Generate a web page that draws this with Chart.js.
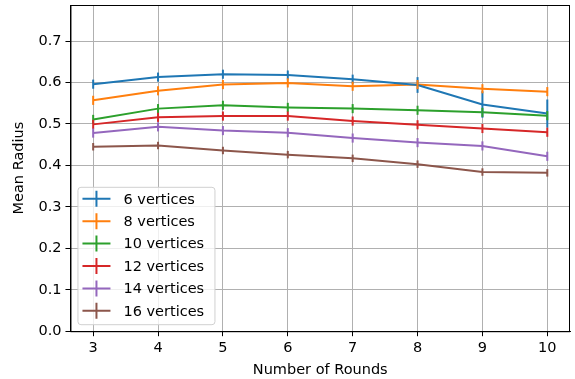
<!DOCTYPE html>
<html>
<head>
<meta charset="utf-8">
<script src="https://cdn.jsdelivr.net/npm/chart.js@4"></script>
<style>
  html, body { margin: 0; padding: 0; background: #fff; }
  #wrap { width: 575px; height: 379px; }
</style>
</head>
<body>
<div id="wrap"><canvas id="chart" width="575" height="379"></canvas></div>
<script>
// rounds on the x axis
const rounds = [3, 4, 5, 6, 7, 8, 9, 10];
const yTicks = [0, 0.1, 0.2, 0.3, 0.4, 0.5, 0.6, 0.7];

const labels = ["6 vertices", "8 vertices", "10 vertices", "12 vertices", "14 vertices", "16 vertices"];
const colors = ["#1f77b4", "#ff7f0e", "#2ca02c", "#d62728", "#9467bd", "#8c564b"];

// mean radius per series
const v6  = [0.596, 0.613, 0.620, 0.618, 0.608, 0.594, 0.547, 0.525];
const v8  = [0.557, 0.580, 0.595, 0.599, 0.591, 0.595, 0.585, 0.578];
const v10 = [0.511, 0.537, 0.545, 0.540, 0.537, 0.533, 0.528, 0.520];
const v12 = [0.499, 0.516, 0.519, 0.519, 0.507, 0.498, 0.489, 0.480];
const v14 = [0.478, 0.493, 0.484, 0.479, 0.466, 0.455, 0.447, 0.422];
const v16 = [0.445, 0.448, 0.436, 0.426, 0.417, 0.403, 0.384, 0.382];

// error bar half-widths
const e6  = [0.011, 0.011, 0.011, 0.011, 0.011, 0.019, 0.032, 0.034];
const e8  = [0.011, 0.011, 0.011, 0.011, 0.011, 0.011, 0.011, 0.011];
const e10 = [0.011, 0.011, 0.011, 0.011, 0.011, 0.011, 0.011, 0.011];
const e12 = [0.011, 0.011, 0.011, 0.011, 0.011, 0.011, 0.011, 0.011];
const e14 = [0.011, 0.011, 0.011, 0.011, 0.011, 0.011, 0.011, 0.011];
const e16 = [0.009, 0.009, 0.009, 0.009, 0.009, 0.009, 0.009, 0.009];

const values = [v6, v8, v10, v12, v14, v16];
const errors = [e6, e8, e10, e12, e14, e16];

const FONT = "'DejaVu Sans', sans-serif";
const FS = 14.5;

const datasets = values.map((vals, i) => ({
  label: labels[i],
  data: vals.map((y, j) => ({ x: rounds[j], y })),
  errors: errors[i],
  borderColor: colors[i],
  backgroundColor: colors[i],
  borderWidth: 2,
  pointRadius: 0,
  tension: 0,
}));

// vertical error bars, drawn through the scales
const errorBars = {
  id: "errorBars",
  afterDatasetsDraw(chart) {
    const { ctx, scales: { x, y } } = chart;
    ctx.save();
    chart.data.datasets.forEach(ds => {
      ctx.strokeStyle = ds.borderColor;
      ctx.lineWidth = 2;
      ds.data.forEach((p, j) => {
        const e = ds.errors[j];
        const px = x.getPixelForValue(p.x);
        ctx.beginPath();
        ctx.moveTo(px, y.getPixelForValue(p.y - e));
        ctx.lineTo(px, y.getPixelForValue(p.y + e));
        ctx.stroke();
      });
    });
    ctx.restore();
  }
};

// matplotlib-like legend in the lower left corner, plus the full frame
const insideLegend = {
  id: "insideLegend",
  afterDraw(chart) {
    const { ctx, chartArea: a } = chart;
    ctx.save();
    ctx.strokeStyle = "#000";
    ctx.lineWidth = 1;
    ctx.strokeRect(a.left + 0.5, a.top + 0.5, a.right - a.left - 1, a.bottom - a.top);

    const left = a.left + 7, bottom = a.bottom - 7;
    const rowH = 22.4, w = 137, h = rowH * labels.length + 3;
    const top = bottom - h;
    ctx.fillStyle = "rgba(255,255,255,0.8)";
    ctx.strokeStyle = "#d0d0d0";
    ctx.beginPath();
    ctx.roundRect(left + 0.5, top + 0.5, w, h, 3);
    ctx.fill();
    ctx.stroke();
    ctx.font = FS + "px " + FONT;
    ctx.textBaseline = "middle";
    labels.forEach((lab, i) => {
      const cy = top + 12 + i * rowH;
      ctx.strokeStyle = colors[i];
      ctx.lineWidth = 2;
      ctx.beginPath();
      ctx.moveTo(left + 5, cy);
      ctx.lineTo(left + 33, cy);
      ctx.moveTo(left + 19, cy - 8);
      ctx.lineTo(left + 19, cy + 8);
      ctx.stroke();
      ctx.fillStyle = "#000";
      ctx.fillText(lab, left + 46, cy + 1);
    });
    ctx.restore();
  }
};

new Chart(document.getElementById("chart"), {
  type: "line",
  data: { datasets },
  plugins: [errorBars, insideLegend],
  options: {
    responsive: false,
    animation: false,
    layout: { padding: { top: 5, right: 5, left: 11, bottom: 0 } },
    plugins: { legend: { display: false }, tooltip: { enabled: false } },
    scales: {
      x: {
        type: "linear",
        min: 2.65,
        max: 10.35,
        afterBuildTicks: s => { s.ticks = rounds.map(v => ({ value: v })); },
        ticks: { color: "#000", font: { family: FONT, size: FS }, padding: 3, maxRotation: 0 },
        grid: { color: "#b0b0b0", lineWidth: 1, tickColor: "#000", tickLength: 5 },
        border: { color: "#000", width: 1 },
        title: { display: true, text: "Number of Rounds", color: "#000", font: { family: FONT, size: FS }, padding: { top: 2, bottom: 0 } },
      },
      y: {
        min: 0,
        max: 0.787,
        afterBuildTicks: s => { s.ticks = yTicks.map(v => ({ value: v })); },
        afterFit: s => { s.paddingTop = 0; },
        ticks: { color: "#000", font: { family: FONT, size: FS }, padding: 4, callback: v => v.toFixed(1) },
        grid: { color: "#b0b0b0", lineWidth: 1, tickColor: "#000", tickLength: 5 },
        border: { color: "#000", width: 1 },
        title: { display: true, text: "Mean Radius", color: "#000", font: { family: FONT, size: FS }, padding: { top: 0, bottom: 6 } },
      },
    },
  },
});
</script>
</body>
</html>
